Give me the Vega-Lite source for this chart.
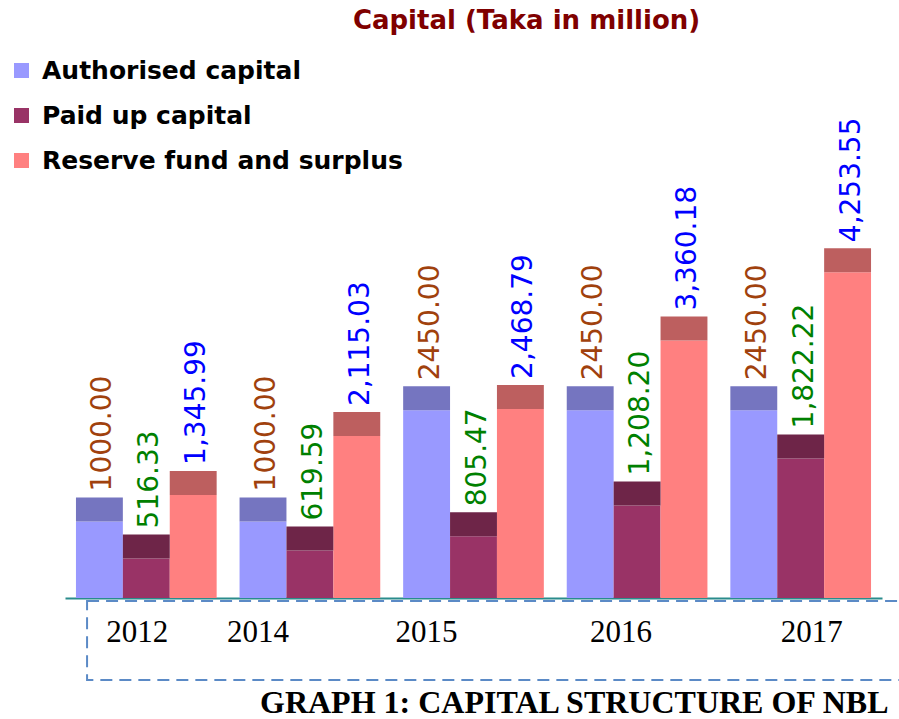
{
  "$schema": "https://vega.github.io/schema/vega-lite/v6.json",
  "width": 817,
  "height": 398,
  "autosize": "none",
  "padding": {"left": 65, "top": 200, "right": 17, "bottom": 121},
  "background": "white",
  "config": {"view": {"stroke": null}},
  "title": {
    "text": "Capital (Taka in million)",
    "font": "DejaVu Sans",
    "fontSize": 26,
    "fontWeight": "bold",
    "color": "#7f0000",
    "anchor": "middle",
    "frame": "group",
    "dx": 53,
    "offset": 24
  },
  "data": {
    "values": [
      {"year": "2012", "series": "Authorised capital", "value": 1000, "label": "1000.00"},
      {"year": "2012", "series": "Paid up capital", "value": 516.33, "label": "516.33"},
      {"year": "2012", "series": "Reserve fund and surplus", "value": 1345.99, "label": "1,345.99"},
      {"year": "2014", "series": "Authorised capital", "value": 1000, "label": "1000.00"},
      {"year": "2014", "series": "Paid up capital", "value": 619.59, "label": "619.59"},
      {"year": "2014", "series": "Reserve fund and surplus", "value": 2115.03, "label": "2,115.03"},
      {"year": "2015", "series": "Authorised capital", "value": 2450, "label": "2450.00"},
      {"year": "2015", "series": "Paid up capital", "value": 805.47, "label": "805.47"},
      {"year": "2015", "series": "Reserve fund and surplus", "value": 2468.79, "label": "2,468.79"},
      {"year": "2016", "series": "Authorised capital", "value": 2450, "label": "2450.00"},
      {"year": "2016", "series": "Paid up capital", "value": 1208.2, "label": "1,208.20"},
      {"year": "2016", "series": "Reserve fund and surplus", "value": 3360.18, "label": "3,360.18"},
      {"year": "2017", "series": "Authorised capital", "value": 2450, "label": "2450.00"},
      {"year": "2017", "series": "Paid up capital", "value": 1822.22, "label": "1,822.22"},
      {"year": "2017", "series": "Reserve fund and surplus", "value": 4253.55, "label": "4,253.55"}
    ]
  },
  "layer": [
    {
      "data": {"values": [{"box": "frame"}]},
      "mark": {"type": "rect", "fill": null, "stroke": "#5b8ac6", "strokeWidth": 2, "strokeDash": [12, 7], "clip": false},
      "encoding": {
        "x": {"datum": 0.027, "type": "quantitative", "scale": {"domain": [0, 1]}, "axis": null},
        "x2": {"datum": 1.25},
        "y": {"datum": -40, "type": "quantitative", "scale": {"domain": [0, 5196], "nice": false, "zero": true}, "axis": null},
        "y2": {"datum": -1070}
      }
    },
    {
      "encoding": {
        "x": {
          "field": "year",
          "type": "nominal",
          "scale": {"paddingInner": 0.14, "paddingOuter": 0.067},
          "axis": {
            "title": "GRAPH 1: CAPITAL STRUCTURE OF NBL",
            "titleFont": "Liberation Serif",
            "titleFontSize": 32,
            "titleFontWeight": "bold",
            "titleColor": "#000000",
            "titleAnchor": "end",
            "titleX": 823,
            "titleAlign": "right",
            "titlePadding": 40,
            "labelAngle": 0,
            "labelFont": "Liberation Serif",
            "labelFontSize": 31,
            "labelColor": "#000000",
            "labelPadding": 19,
            "labelOffset": {"expr": "datum.value == '2012' ? -9 : datum.value == '2014' ? -52 : datum.value == '2015' ? -47 : datum.value == '2016' ? -16 : 11"},
            "ticks": false,
            "domainColor": "#2a8c8c",
            "domainWidth": 2
          }
        },
        "xOffset": {"field": "series", "type": "nominal", "scale": {"paddingInner": 0, "paddingOuter": 0}},
        "y": {"field": "value", "type": "quantitative", "scale": {"domain": [0, 5196], "nice": false, "zero": true}, "axis": null}
      },
      "layer": [
        {
          "mark": {"type": "bar"},
          "encoding": {
            "color": {
              "field": "series",
              "type": "nominal",
              "scale": {"domain": ["Authorised capital", "Paid up capital", "Reserve fund and surplus"], "range": ["#9999ff", "#993366", "#ff8080"]},
              "legend": {
                "title": null,
                "orient": "none",
                "legendX": -56,
                "legendY": -142,
                "symbolType": "square",
                "symbolSize": 225,
                "symbolStrokeWidth": 0,
                "symbolOpacity": 1,
                "labelFont": "DejaVu Sans",
                "labelFontSize": 25,
                "labelFontWeight": "bold",
                "labelColor": "#000000",
                "labelOffset": 8,
                "rowPadding": 19,
                "labelLimit": 500
              }
            }
          }
        },
        {
          "mark": {"type": "bar", "y2Offset": -24},
          "encoding": {
            "y2": {"field": "value"},
            "color": {
              "field": "series",
              "type": "nominal",
              "scale": {"domain": ["Authorised capital", "Paid up capital", "Reserve fund and surplus"], "range": ["#7575c0", "#6e2548", "#bd5f5f"]},
              "legend": null
            }
          }
        },
        {
          "mark": {"type": "text", "angle": 270, "align": "left", "baseline": "middle", "dx": 30, "dy": 4, "font": "DejaVu Sans", "fontSize": 28},
          "encoding": {
            "text": {"field": "label"},
            "color": {
              "field": "series",
              "type": "nominal",
              "scale": {"domain": ["Authorised capital", "Paid up capital", "Reserve fund and surplus"], "range": ["#a0410d", "#008000", "#0000ff"]},
              "legend": null
            }
          }
        }
      ],
      "resolve": {"scale": {"color": "independent"}}
    }
  ],
  "resolve": {"scale": {"x": "independent", "color": "independent"}}
}
